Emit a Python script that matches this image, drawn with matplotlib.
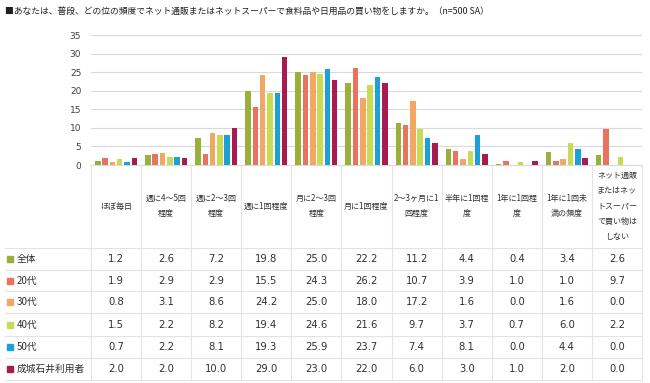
import matplotlib
matplotlib.use("Agg")
import matplotlib.pyplot as plt
import numpy as np

plt.rcParams["font.family"] = ["Noto Sans CJK JP", "DejaVu Sans"]

TITLE = "■あなたは、普段、どの位の頻度でネット通販またはネットスーパーで食料品や日用品の買い物をしますか。（n=500 SA）"

categories = [
    "ほぼ毎日",
    "週に4～5回\n程度",
    "週に2～3回\n程度",
    "週に1回程度",
    "月に2～3回\n程度",
    "月に1回程度",
    "2～3ヶ月に1\n回程度",
    "半年に1回程\n度",
    "1年に1回程\n度",
    "1年に1回未\n満の頻度",
    "ネット通販\nまたはネッ\nトスーパー\nで買い物は\nしない",
]

series_names = ["全体", "20代", "30代", "40代", "50代", "成城石井利用者"]

all_users = [1.2, 2.6, 7.2, 19.8, 25.0, 22.2, 11.2, 4.4, 0.4, 3.4, 2.6]
age_20s = [1.9, 2.9, 2.9, 15.5, 24.3, 26.2, 10.7, 3.9, 1.0, 1.0, 9.7]
age_30s = [0.8, 3.1, 8.6, 24.2, 25.0, 18.0, 17.2, 1.6, 0.0, 1.6, 0.0]
age_40s = [1.5, 2.2, 8.2, 19.4, 24.6, 21.6, 9.7, 3.7, 0.7, 6.0, 2.2]
age_50s = [0.7, 2.2, 8.1, 19.3, 25.9, 23.7, 7.4, 8.1, 0.0, 4.4, 0.0]
seijo_users = [2.0, 2.0, 10.0, 29.0, 23.0, 22.0, 6.0, 3.0, 1.0, 2.0, 0.0]

series_values = [all_users, age_20s, age_30s, age_40s, age_50s, seijo_users]
colors = ["#9BAF3A", "#E8735F", "#F0A864", "#C9DB55", "#1DA0D8", "#A81B50"]

W, H = 650, 383
fig = plt.figure(figsize=(W / 100, H / 100), dpi=100)

# bar chart area, pixel positions
left, right, top, zero = 91, 642, 35, 165
ax = fig.add_axes([left / W, 1 - zero / H, (right - left) / W, (zero - top) / H])
n_cat = len(categories)
step, width = 0.146, 0.11
x = np.arange(n_cat) + 0.5
for j, (vals, col) in enumerate(zip(series_values, colors)):
    ax.bar(x + (j - 2.5) * step, vals, width=width, color=col, zorder=3)

ax.set_xlim(0, n_cat)
ax.set_ylim(0, 35)
ax.set_yticks(range(0, 36, 5))
ax.set_xticks([])
ax.grid(axis="y", color="#d9d9d9", linewidth=0.8, zorder=0)
for s in ["top", "right", "left"]:
    ax.spines[s].set_visible(False)
ax.spines["bottom"].set_color("#d9d9d9")
ax.tick_params(axis="y", length=0, labelsize=6.5, colors="#404040", pad=7)
for lbl in ax.get_yticklabels():
    lbl.set_fontfamily("DejaVu Sans")

# overlay in pixel coordinates for title and data table
ov = fig.add_axes([0, 0, 1, 1])
ov.set_xlim(0, W)
ov.set_ylim(H, 0)
ov.axis("off")

ov.text(5, 12, TITLE, fontsize=6.35, va="center", ha="left", color="#202020")

col_w = (right - left) / n_cat
row_lines = [248, 270, 291, 313, 336, 358, 380]
line_col = "#e3e3e3"

for k in range(n_cat + 1):
    ov.plot([left + k * col_w] * 2, [zero, row_lines[-1]], color=line_col, lw=0.8)
for y in row_lines:
    ov.plot([5, right], [y, y], color=line_col, lw=0.8)

for k, cat in enumerate(categories):
    ov.text(left + (k + 0.5) * col_w, 206, cat, fontsize=5.8, ha="center",
            va="center", linespacing=1.9, color="#303030")

for r, (name, vals, col) in enumerate(zip(series_names, series_values, colors)):
    yc = (row_lines[r] + row_lines[r + 1]) / 2
    ov.add_patch(plt.Rectangle((7, yc - 3), 6, 6, color=col))
    ov.text(17, yc, name, fontsize=7, ha="left", va="center", color="#303030")
    for k, v in enumerate(vals):
        ov.text(left + (k + 0.5) * col_w, yc, f"{v:.1f}", fontsize=7.2, ha="center",
                va="center", family="DejaVu Sans", color="#303030")

fig.savefig("out.png", dpi=100)
